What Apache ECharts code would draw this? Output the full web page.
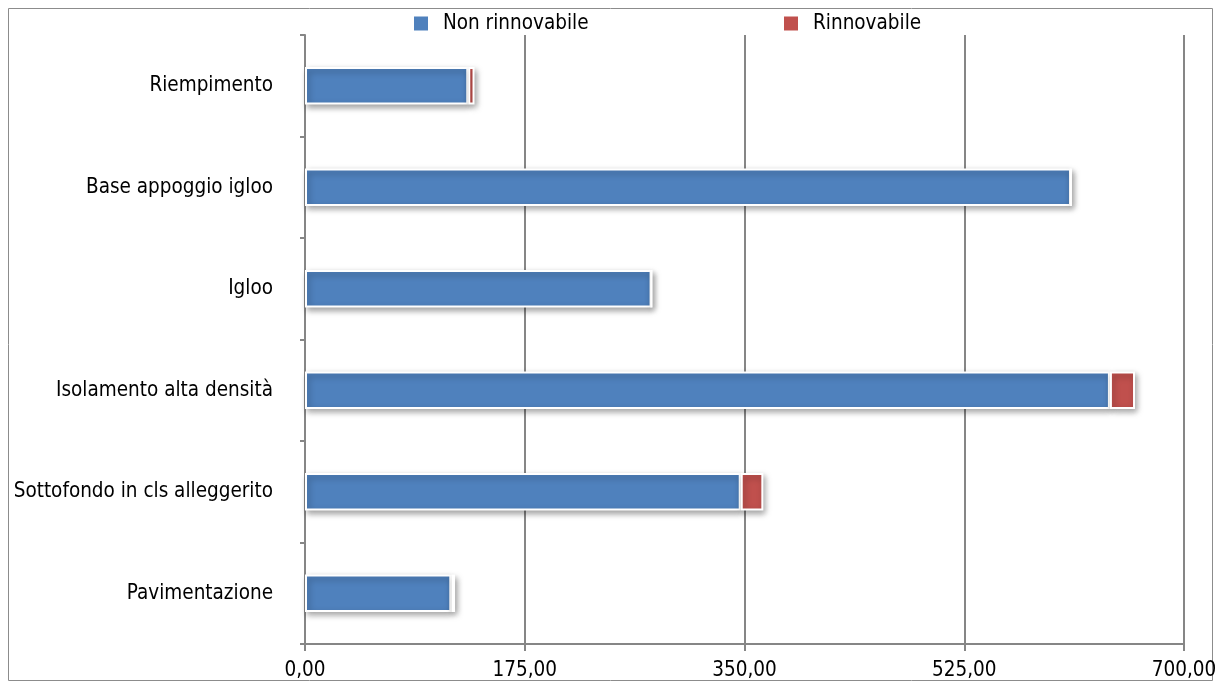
<!DOCTYPE html>
<html><head><meta charset="utf-8">
<script src="https://cdn.jsdelivr.net/npm/echarts@6/dist/echarts.min.js"></script>
<style>html,body{margin:0;padding:0;background:#fff}#c{width:1220px;height:684px}</style>
</head><body><div id="c"></div>
<script>
const categories = ['Pavimentazione','Sottofondo in cls alleggerito','Isolamento alta densità','Igloo','Base appoggio igloo','Riempimento'];
const nonRinnovabile = [116.5, 347, 641, 276, 610, 130];
const rinnovabile = [3, 18, 20, 0, 0, 5];
const seriesNames = ['Non rinnovabile','Rinnovabile'];
const xTicks = [0, 175, 350, 525, 700];

const FONT = 'DejaVu Sans Condensed';
const FS = 20.5;
const chart = echarts.init(document.getElementById('c'), null, {renderer:'canvas'});
const barStyle = (color) => ({
  color: color, borderColor: '#ffffff', borderWidth: 2,
  shadowColor: 'rgba(0,0,0,0.35)', shadowBlur: 6, shadowOffsetX: 2, shadowOffsetY: 3
});
const legendItemStyle = {borderWidth:0, shadowBlur:0, shadowOffsetX:0, shadowOffsetY:0, shadowColor:'transparent'};
chart.setOption({
  animation: false,
  textStyle: {fontFamily: FONT},
  graphic: [{type:'rect', shape:{x:8.5,y:8.5,width:1204,height:672}, style:{fill:'none', stroke:'#8c8c8c', lineWidth:1}, silent:true}],
  legend: [
    {data:[seriesNames[0]], left:414, top:13, padding:0, itemWidth:14, itemHeight:14, icon:'rect', itemStyle:legendItemStyle,
     textStyle:{fontFamily:FONT, fontSize:FS, color:'#000', padding:[0,0,0,10]}},
    {data:[seriesNames[1]], left:784, top:13, padding:0, itemWidth:14, itemHeight:14, icon:'rect', itemStyle:legendItemStyle,
     textStyle:{fontFamily:FONT, fontSize:FS, color:'#000', padding:[0,0,0,10]}}
  ],
  grid: {left:305, right:36, top:35, bottom:40, containLabel:false},
  xAxis: {
    type:'value', min:xTicks[0], max:xTicks[xTicks.length-1], interval:175,
    axisLine:{show:true, lineStyle:{color:'#868686', width:2}},
    axisTick:{show:true, inside:false, length:7, lineStyle:{color:'#868686', width:2}},
    splitLine:{show:true, lineStyle:{color:'#868686', width:2}},
    axisLabel:{color:'#000', fontSize:FS, fontFamily:FONT, margin:16,
      formatter: v => v.toFixed(2).replace('.', ',')}
  },
  yAxis: {
    type:'category', data:categories,
    axisLine:{show:true, lineStyle:{color:'#868686', width:2}},
    axisTick:{show:true, length:5, lineStyle:{color:'#868686', width:2}},
    axisLabel:{color:'#000', fontSize:FS, fontFamily:FONT, margin:32}
  },
  series: [
    {name:seriesNames[0], type:'bar', stack:'t', data:nonRinnovabile, barWidth:'37%', itemStyle:barStyle('#4f81bd')},
    {name:seriesNames[1], type:'bar', stack:'t', data:rinnovabile, barWidth:'37%', itemStyle:barStyle('#c0504d')}
  ]
});
</script></body></html>
